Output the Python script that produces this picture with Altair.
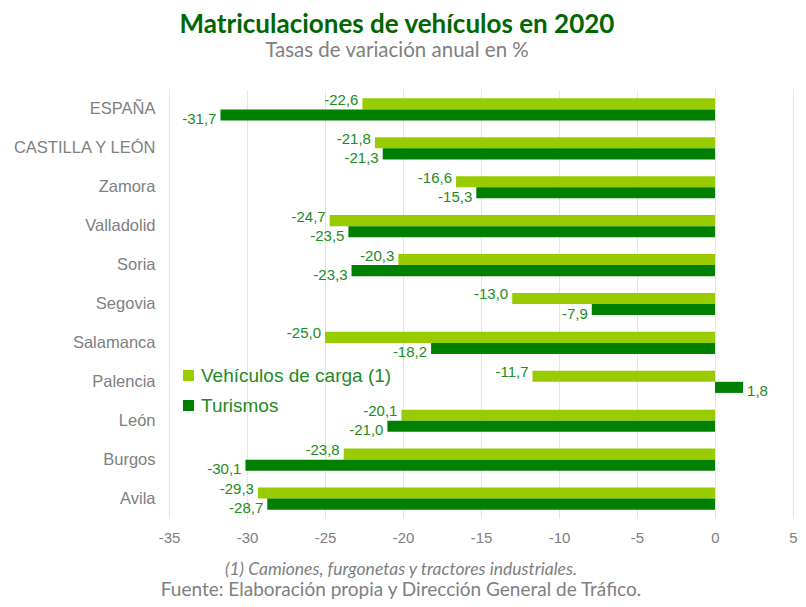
import altair as alt
import pandas as pd

categories = ["ESPAÑA", "CASTILLA Y LEÓN", "Zamora", "Valladolid", "Soria", "Segovia",
              "Salamanca", "Palencia", "León", "Burgos", "Avila"]
carga = [-22.6, -21.8, -16.6, -24.7, -20.3, -13.0, -25.0, -11.7, -20.1, -23.8, -29.3]
turismos = [-31.7, -21.3, -15.3, -23.5, -23.3, -7.9, -18.2, 1.8, -21.0, -30.1, -28.7]
series = ["Vehículos de carga (1)", "Turismos"]
colors = ["#99CC00", "#008000"]
x_ticks = [-35, -30, -25, -20, -15, -10, -5, 0, 5]

title_text = "Matriculaciones de vehículos en 2020"
subtitle_text = "Tasas de variación anual en %"
footnote = "(1) Camiones, furgonetas y tractores industriales."
source = "Fuente:  Elaboración propia y Dirección General de Tráfico."

rows = []
for s, vals in zip(series, [carga, turismos]):
    for c, v in zip(categories, vals):
        rows.append({"cat": c, "serie": s, "valor": v,
                     "etiqueta": f"{v:.1f}".replace(".", ",")})
df = pd.DataFrame(rows)

W, H = 624, 428
PAD = {"left": 161, "top": 82, "right": 5, "bottom": 81}
LABEL_GREEN = "#228B22"
GRAY = "#808080"
SANS = "Liberation Sans, Arial, sans-serif"

x_enc = alt.X("valor:Q", title=None,
              scale=alt.Scale(domain=[-35, 5], nice=False, zero=False),
              axis=alt.Axis(values=x_ticks, labelExpr="datum.value + ''", ticks=False,
                            domain=False, grid=True, gridColor="#DCE9DC",
                            labelColor=GRAY, labelFontSize=15, labelFont=SANS,
                            labelPadding=12, labelFlush=False, labelOverlap=False))
y_enc = alt.Y("cat:N", sort=categories, title=None,
              scale=alt.Scale(paddingInner=0.43, paddingOuter=0.215),
              axis=alt.Axis(ticks=False, domain=False, grid=False, labelColor=GRAY,
                            labelFontSize=16.5, labelFont=SANS, labelPadding=14))
yoff_enc = alt.YOffset("serie:N", sort=series,
                       scale=alt.Scale(domain=series, paddingInner=0, paddingOuter=0))
color_enc = alt.Color("serie:N", scale=alt.Scale(domain=series, range=colors),
                      legend=alt.Legend(orient="none", legendX=10, legendY=276, title=None,
                                        symbolType="square", symbolSize=121,
                                        symbolStrokeWidth=0, symbolOpacity=1,
                                        labelFontSize=19, labelColor=LABEL_GREEN,
                                        labelFont=SANS, rowPadding=10, labelOffset=3,
                                        labelLimit=400))

base = alt.Chart(df)
bars = base.mark_bar().encode(x=x_enc, y=y_enc, yOffset=yoff_enc, color=color_enc)

layers = [bars]
for s, dy in zip(series, [-4, 4]):
    for cond, align, dx in [("<", "right", -4), (">=", "left", 4)]:
        layers.append(
            base.transform_filter(f"datum.serie == '{s}' && datum.valor {cond} 0")
            .mark_text(align=align, baseline="middle", dx=dx, dy=dy, fontSize=15,
                       font=SANS, color=LABEL_GREEN)
            .encode(x=x_enc, y=y_enc, yOffset=yoff_enc, text="etiqueta:N")
        )

foot1 = alt.Chart(pd.DataFrame({"t": [footnote]})).mark_text(
    font="Lato", fontStyle="italic", fontSize=17.5, color=GRAY, align="center",
    baseline="middle").encode(text="t:N", x=alt.value(232), y=alt.value(480))
foot2 = alt.Chart(pd.DataFrame({"t": [source]})).mark_text(
    font="Lato", fontSize=19, color=GRAY, align="center",
    baseline="middle").encode(text="t:N", x=alt.value(232), y=alt.value(500))
layers += [foot1, foot2]

chart = alt.layer(*layers).properties(
    width=W, height=H,
    autosize=alt.AutoSizeParams(type="none"),
    padding=PAD,
    title=alt.TitleParams(text=title_text, subtitle=subtitle_text, font="Lato",
                          fontSize=26, fontWeight="bold", color="#006600",
                          subtitleFont="Lato", subtitleFontSize=20.5, subtitleColor=GRAY,
                          anchor="middle", frame="group", dx=-84, offset=29,
                          subtitlePadding=3),
).configure_view(strokeWidth=0)

chart.save("out.html", embed_options={"renderer": "svg", "actions": False})
